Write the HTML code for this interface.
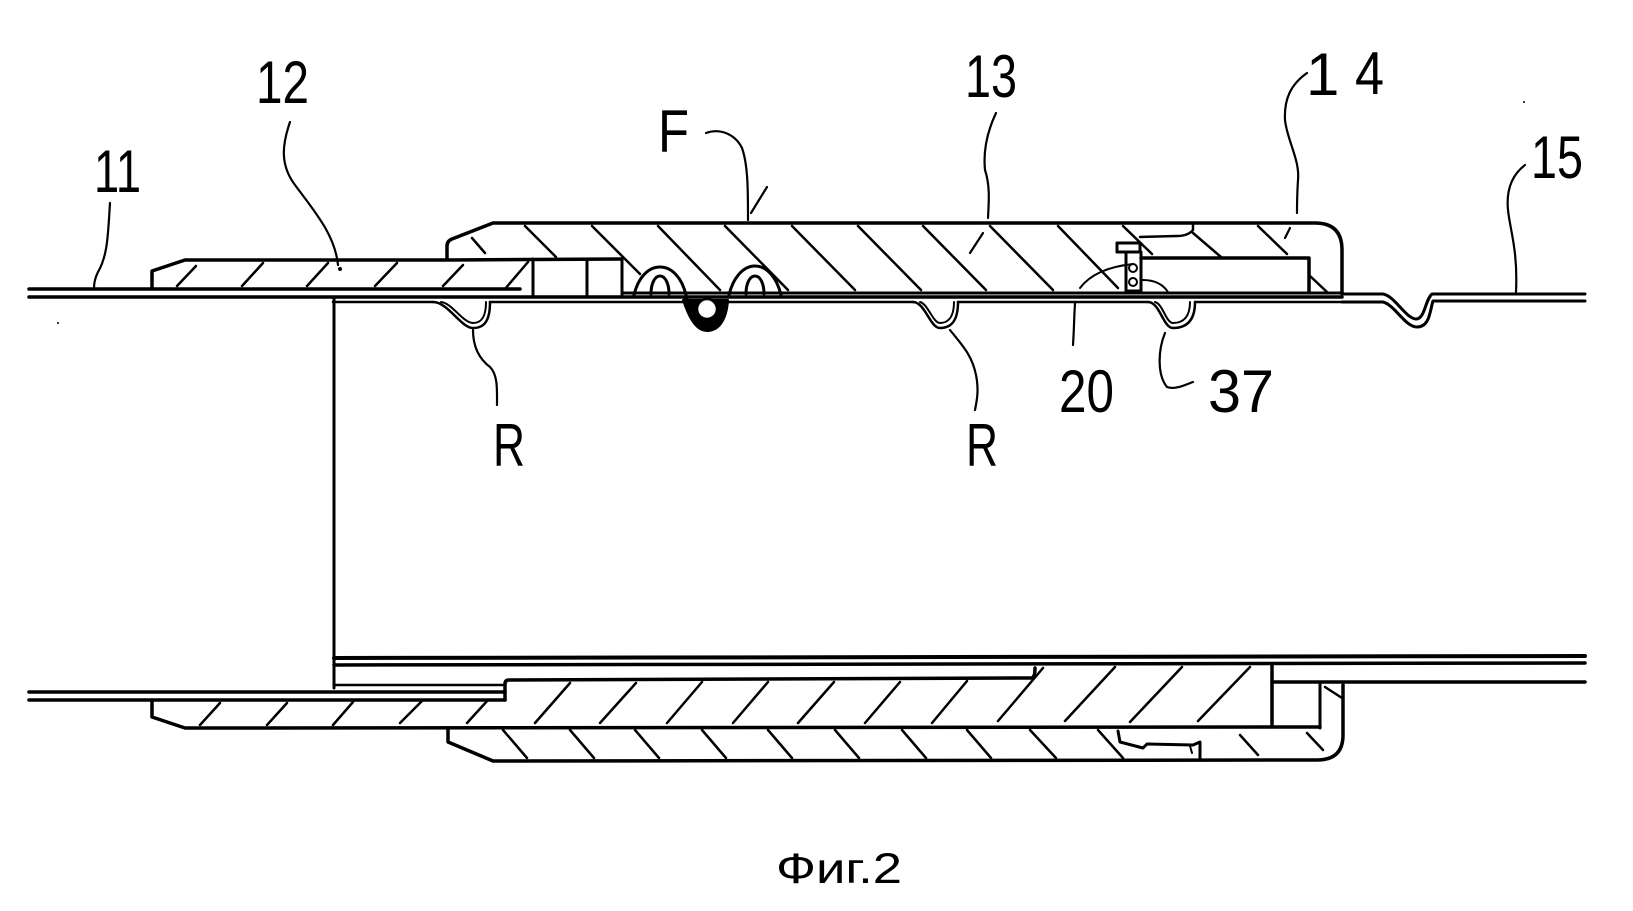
<!DOCTYPE html>
<html><head><meta charset="utf-8"><style>
html,body{margin:0;padding:0;background:#fff;}
svg{display:block;}
text{font-family:"Liberation Sans","DejaVu Sans",sans-serif;fill:#000;}
</style></head><body>
<svg width="1633" height="911" viewBox="0 0 1633 911" xmlns="http://www.w3.org/2000/svg">
<rect width="1633" height="911" fill="#fff"/>
<g fill="none" stroke="#000" stroke-linecap="round" stroke-linejoin="round">
<!-- ===== TOP HALF ===== -->
<!-- pipe 11 lines -->
<line x1="29" y1="289" x2="520" y2="289" stroke-width="3.5"/>
<line x1="29" y1="297" x2="1342" y2="297" stroke-width="3.5"/>
<line x1="622" y1="293" x2="1342" y2="293" stroke-width="3"/>
<!-- inner pipe line with beads -->
<path d="M333 302 L433 302 M490 302 L913 302 M958 302 L1148 302 M1195 302 L1342 302" stroke-width="2.5"/>
<!-- vertical pipe end -->
<line x1="334" y1="298" x2="334" y2="688" stroke-width="3"/>
<!-- right pipe 15 with groove -->
<path d="M1342 294 L1383 294 C1395 296 1405 318 1416 319 C1425 319 1425 300 1432 294 L1585 294" stroke-width="3"/>
<path d="M1342 302 L1383 302 C1395 305 1405 327 1417 327 C1430 327 1430 310 1433 301 L1585 301" stroke-width="3"/>
<!-- nut 12 top -->
<path d="M152 288 L152 271 L185 260 L447 260 L622 259" stroke-width="3.5"/>
<line x1="528" y1="262" x2="505" y2="289" stroke-width="2.5"/>
<!-- boxes -->
<path d="M533 259 L533 297 M587 259 L587 297 M622 259 L622 297" stroke-width="3"/>
<!-- nut 12 hatch -->
<path d="M177 286 L196 266 M242 286 L263 263 M307 286 L328 263 M375 286 L397 263 M443 286 L463 265" stroke-width="2.5"/>
<!-- body 13 outline -->
<path d="M447 258 L447 246 Q447 241 452 239 L493 223 L1315 223 Q1342 223 1342 250 L1342 294" stroke-width="3.5"/>
<!-- body hatch -->
<path d="M472 238 L485 253 M525 226 L556 257 M592 226 L640 274 M658 226 L720 290 M725 226 L788 290 M792 226 L855 290 M858 226 L921 290 M923 226 L986 290 M990 226 L1053 290 M1058 226 L1118 288 M1123 226 L1152 254 M1258 226 L1287 254 M1310 276 L1327 292" stroke-width="2.5"/>
<!-- interface 13/14 -->
<path d="M1117 252 L1117 243 L1140 243 M1140 237 L1177 236 Q1188 236 1193 230 L1193 223 M1193 233 L1221 257" stroke-width="2.5"/>
<rect x="1126" y="252" width="15" height="39" stroke-width="3"/>
<rect x="1117" y="243" width="23" height="9" stroke-width="3"/>
<circle cx="1133" cy="268" r="4" stroke-width="2"/>
<circle cx="1133" cy="282" r="4" stroke-width="2"/>
<!-- inner rect 14 -->
<path d="M1141 258 L1309 258 L1309 292" stroke-width="3.5"/>
<!-- 20 arcs -->
<path d="M1080 288 Q1095 268 1133 264" stroke-width="2"/>
<path d="M1143 280 Q1160 280 1168 292" stroke-width="2"/>
<!-- O-ring arches -->
<path d="M634 295 C638 278 648 267 660 267 C672 267 682 278 686 295" stroke-width="3"/>
<path d="M651 294 C651 283 655 276 660 276 C665 276 669 283 669 294" stroke-width="3"/>
<path d="M729 295 C733 278 743 266 755 266 C767 266 777 278 781 295" stroke-width="3"/>
<path d="M746 294 C746 283 750 276 755 276 C760 276 764 283 764 294" stroke-width="3"/>
<!-- R beads -->
<path d="M433 302 C448 302 461 328 473 328 C485 328 490 320 490 302" stroke-width="2.5"/>
<path d="M441 302 C452 303 463 323 473 323 C482 323 486 316 486 302" stroke-width="2"/>
<path d="M913 302 C925 302 930 328 940 328 C952 328 958 320 958 302" stroke-width="2.5"/>
<path d="M920 302 C928 304 933 323 940 323 C949 323 954 316 954 302" stroke-width="2"/>
<path d="M1148 302 C1160 302 1163 328 1173 328 C1187 328 1195 320 1195 302" stroke-width="2.5"/>
<path d="M1155 302 C1163 304 1166 323 1173 323 C1184 323 1190 316 1190 302" stroke-width="2"/>
<!-- ball -->
<path d="M683 300 C688 315 695 331 707 331 C720 331 727 318 728 300 Z" fill="#000" stroke-width="2"/>
<circle cx="707" cy="309" r="10" fill="#fff" stroke-width="2.5"/>
<circle cx="686" cy="299" r="2.5" fill="#000" stroke="none"/>

<!-- ===== BOTTOM HALF ===== -->
<line x1="334" y1="658" x2="1585" y2="656" stroke-width="4"/>
<line x1="334" y1="665" x2="1585" y2="663" stroke-width="3.5"/>
<line x1="334" y1="685" x2="505" y2="685" stroke-width="2.5"/>
<line x1="29" y1="692" x2="505" y2="692" stroke-width="3.5"/>
<line x1="29" y1="700" x2="505" y2="700" stroke-width="3.5"/>
<path d="M505 700 L505 684 Q505 680 509 680 L1031 678 Q1035 678 1035 668" stroke-width="3.5"/>
<line x1="1272" y1="665" x2="1272" y2="726" stroke-width="3.5"/>
<line x1="1272" y1="682" x2="1585" y2="682" stroke-width="3.5"/>
<line x1="1320" y1="684" x2="1320" y2="728" stroke-width="3"/>
<path d="M152 700 L152 717 L185 728 L1320 727" stroke-width="3.5"/>
<path d="M1343 685 L1343 735 Q1343 760 1317 760 L493 761 L448 742 L448 729" stroke-width="3.5"/>
<!-- nut 12 lower hatch -->
<path d="M200 725 L220 703 M267 725 L287 703 M333 725 L353 702 M400 723 L423 700 M467 723 L488 700" stroke-width="2.5"/>
<!-- upper band hatch -->
<path d="M535 723 L570 683 M600 723 L636 683 M667 723 L702 682 M733 723 L768 682 M798 723 L834 682 M865 723 L900 682 M932 723 L967 681 M998 721 L1043 668 M1065 721 L1115 667 M1130 722 L1182 667 M1198 721 L1250 667" stroke-width="2.5"/>
<!-- lower band hatch -->
<path d="M503 730 L527 758 M570 730 L594 758 M635 730 L659 758 M702 730 L726 758 M768 730 L792 758 M835 730 L859 758 M902 730 L926 758 M967 730 L991 758 M1030 730 L1056 758 M1098 730 L1123 758 M1240 735 L1258 755 M1307 733 L1323 750 M1325 687 L1342 698" stroke-width="2.5"/>
<!-- clip -->
<path d="M1118 731 L1120 742 L1143 748 L1147 744 L1193 745 L1200 742 L1200 758" stroke-width="3"/>
<path d="M1190 746 L1192 753" stroke-width="2"/>

<!-- ===== LEADERS ===== -->
<g stroke-width="2.2">
<path d="M110 203 C108 233 108 255 98 272 C95 278 94 282 94 288"/>
<path d="M290 122 C282 145 280 165 295 185 C315 212 335 235 338 265"/>
<path d="M706 133 C720 128 735 134 742 148 C748 165 748 190 748 220"/>
<path d="M767 187 L751 213"/>
<path d="M996 113 C988 130 983 150 985 170 C990 185 989 200 988 218"/>
<path d="M983 233 L970 253"/>
<path d="M1307 73 C1290 85 1284 100 1285 120 C1287 140 1300 160 1298 180 C1297 195 1297 205 1297 213"/>
<path d="M1290 228 L1285 238"/>
<path d="M1525 165 C1512 175 1506 190 1508 210 C1510 230 1518 250 1516 292"/>
<path d="M473 330 C473 345 478 358 490 367 C498 375 497 390 497 405"/>
<path d="M950 330 C962 345 972 355 976 375 C979 390 977 400 975 410"/>
<path d="M1075 303 C1074 320 1074 330 1073 345"/>
<path d="M1165 333 C1158 350 1157 375 1167 387 C1175 390 1185 385 1193 382"/>
</g>
</g>
<circle cx="340" cy="269" r="2" fill="#000"/>
<circle cx="58" cy="323" r="1" fill="#000"/>
<circle cx="1524" cy="102" r="1" fill="#000"/>

<!-- ===== LABELS ===== -->
<g font-size="60">
<text x="94" y="192" textLength="47" lengthAdjust="spacingAndGlyphs">11</text>
<text x="256" y="103" textLength="53" lengthAdjust="spacingAndGlyphs">12</text>
<text x="658" y="152" textLength="31" lengthAdjust="spacingAndGlyphs">F</text>
<text x="965" y="97" textLength="52" lengthAdjust="spacingAndGlyphs">13</text>
<text x="1306" y="95">1</text>
<text x="1355" y="94" textLength="29" lengthAdjust="spacingAndGlyphs">4</text>
<text x="1531" y="178" textLength="52" lengthAdjust="spacingAndGlyphs">15</text>
<text x="493" y="466" textLength="32" lengthAdjust="spacingAndGlyphs">R</text>
<text x="966" y="466" textLength="32" lengthAdjust="spacingAndGlyphs">R</text>
<text x="1059" y="412" textLength="55" lengthAdjust="spacingAndGlyphs">20</text>
<text x="1208" y="412" textLength="66" lengthAdjust="spacingAndGlyphs">37</text>
</g>
<text x="776" y="883" font-size="43" textLength="126" lengthAdjust="spacingAndGlyphs">Фиг.2</text>
</svg>
</body></html>
